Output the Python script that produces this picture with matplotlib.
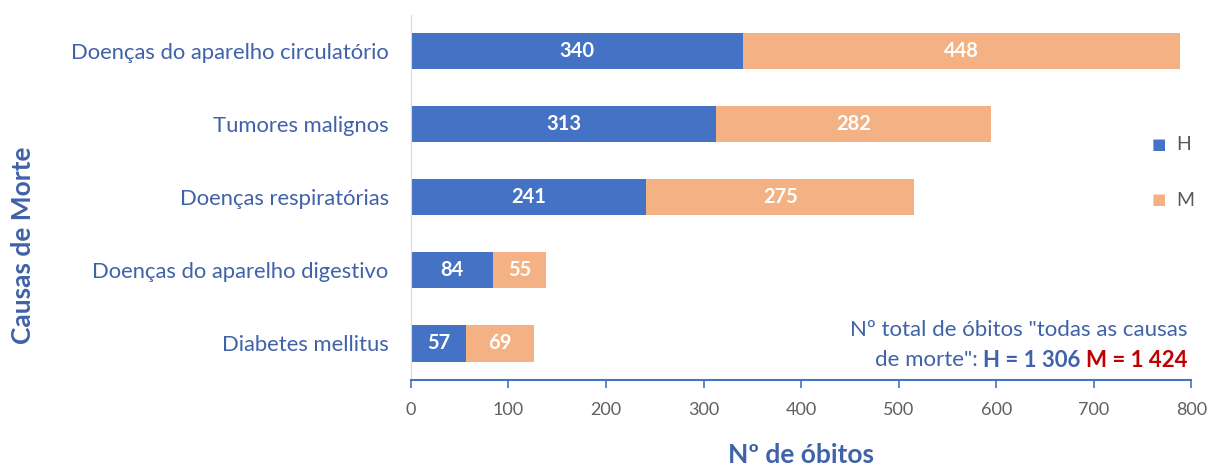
import numpy as np
import matplotlib.pyplot as plt

plt.rcParams['font.family'] = ['Lato', 'DejaVu Sans']

# data
causes = ['Doenças do aparelho circulatório', 'Tumores malignos',
          'Doenças respiratórias', 'Doenças do aparelho digestivo',
          'Diabetes mellitus']
homens = [340, 313, 241, 84, 57]
mulheres = [448, 282, 275, 55, 69]
x_ticks = [0, 100, 200, 300, 400, 500, 600, 700, 800]

blue = '#4472C4'
orange = '#F4B183'
txt = '#3F62A8'

fig = plt.figure(figsize=(12.12, 4.7), dpi=100)
ax = fig.add_axes([0.339, 0.192, 0.644, 0.777])

y = np.arange(len(causes))
ax.barh(y, homens, height=0.5, color=blue, label='H')
ax.barh(y, mulheres, left=homens, height=0.5, color=orange, label='M')

for i in range(len(causes)):
    ax.text(homens[i] / 2, y[i], str(homens[i]), ha='center', va='center',
            color='white', fontsize=14.5, fontweight='bold')
    ax.text(homens[i] + mulheres[i] / 2, y[i], str(mulheres[i]), ha='center',
            va='center', color='white', fontsize=14.5, fontweight='bold')

ax.set_ylim(4.5, -0.5)
ax.set_xlim(0, 800)
ax.set_xticks(x_ticks)
ax.set_yticks(y)
ax.set_yticklabels(causes, fontsize=15.8, color=txt)
ax.tick_params(axis='y', length=0, pad=16)
ax.tick_params(axis='x', length=6, width=1.2, color='#4472C4',
               labelcolor='#606060', labelsize=13, pad=10)

for s in ['top', 'right']:
    ax.spines[s].set_visible(False)
ax.spines['left'].set_color('#D9D9D9')
ax.spines['bottom'].set_color('#4472C4')
ax.spines['bottom'].set_linewidth(1.5)

ax.set_xlabel('Nº de óbitos', fontsize=19, fontweight='bold', color=txt,
              labelpad=18)
fig.text(0.019, 0.479, 'Causas de Morte', rotation=90, fontsize=19,
         fontweight='bold', color=txt, ha='center', va='center')

# legend
fig.text(0.956, 0.692, '■', color=blue, fontsize=11, ha='center', va='center')
fig.text(0.977, 0.692, 'H', color='#595959', fontsize=14, ha='center', va='center')
fig.text(0.956, 0.574, '■', color=orange, fontsize=11, ha='center', va='center')
fig.text(0.978, 0.574, 'M', color='#595959', fontsize=14, ha='center', va='center')

# annotation
fs = 16
ax.text(0.995, 0.137, 'Nº total de óbitos "todas as causas', transform=ax.transAxes,
        ha='right', va='center', fontsize=fs, color=txt)
t_m = ax.text(0.995, 0.053, 'M = 1 424', transform=ax.transAxes, ha='right',
              va='center', fontsize=fs, color='#C00000', fontweight='bold')
t_h = ax.annotate('H = 1 306 ', xy=(0, 0.5), xycoords=t_m, ha='right',
                  va='center', fontsize=fs, color=txt, fontweight='bold')
ax.annotate('de morte": ', xy=(0, 0.5), xycoords=t_h, ha='right',
            va='center', fontsize=fs, color=txt)

fig.savefig('out.png', dpi=100)
